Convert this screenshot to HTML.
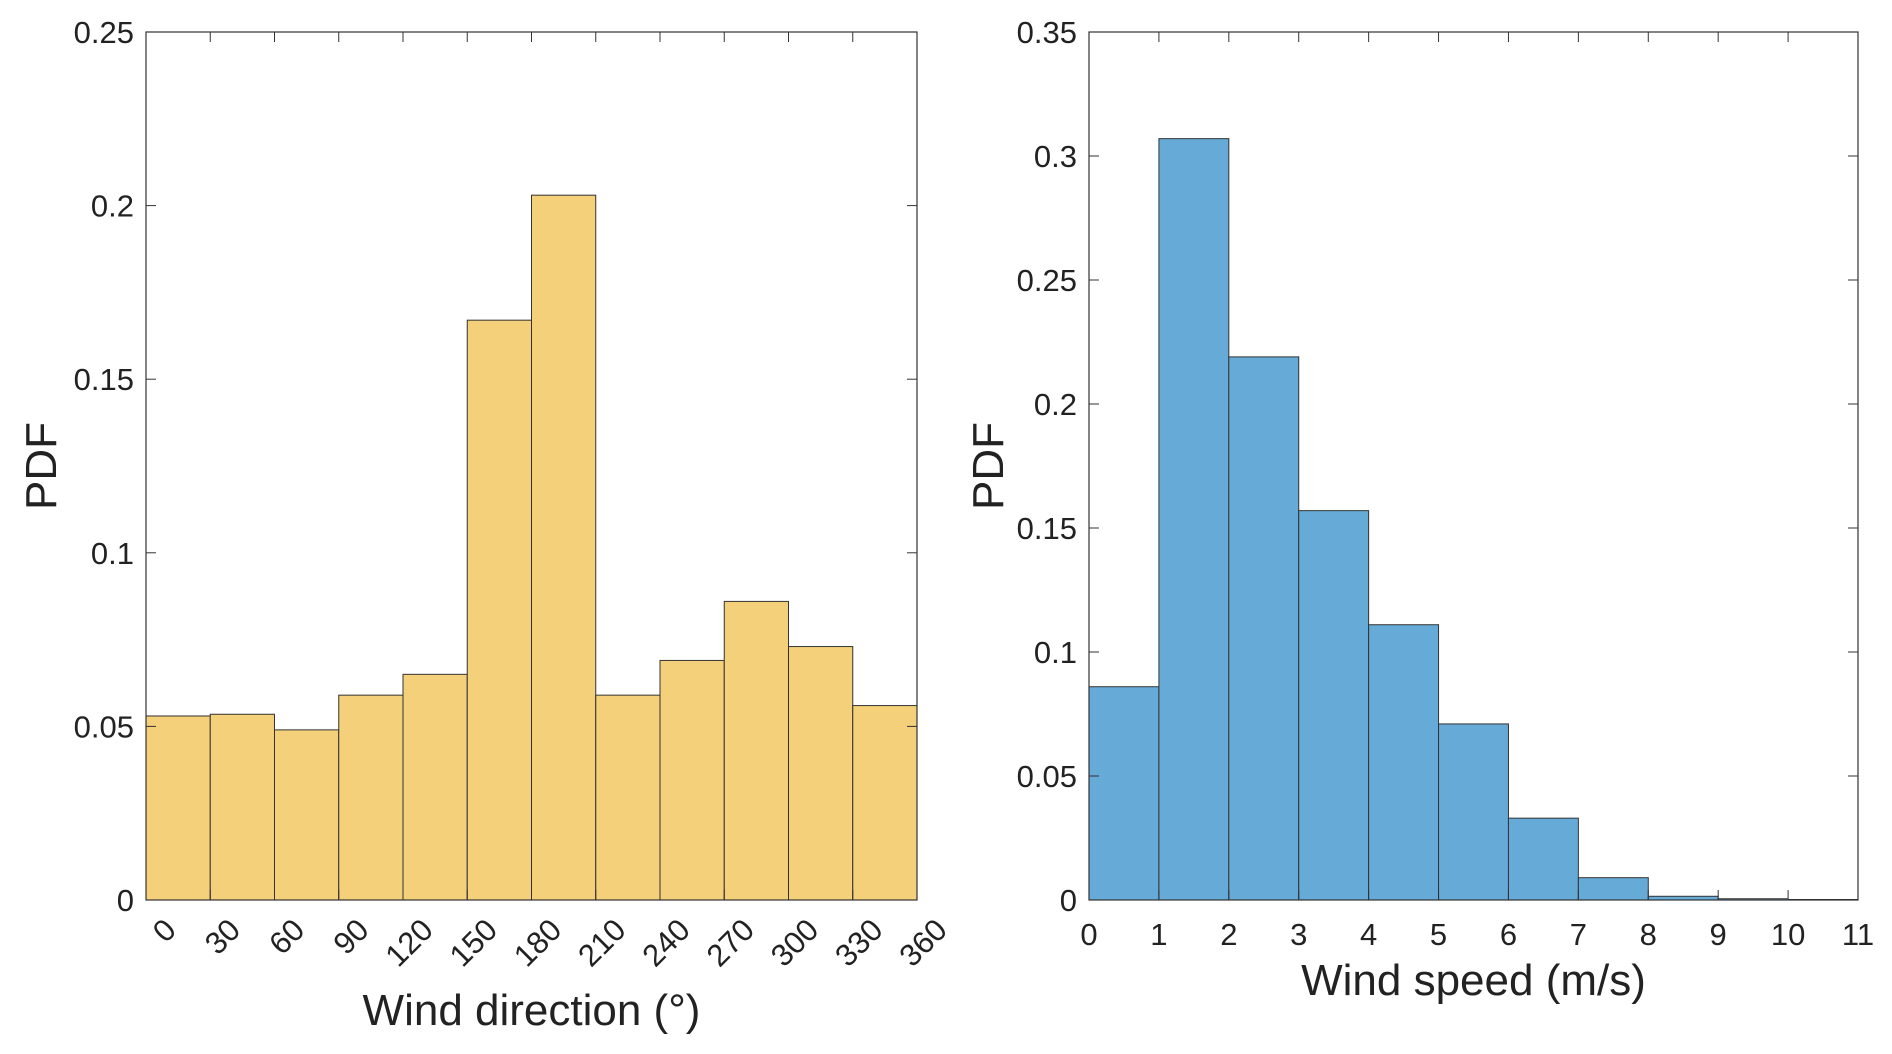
<!DOCTYPE html>
<html><head><meta charset="utf-8"><style>
html,body{margin:0;padding:0;background:#fff;}
svg{display:block;font-family:"Liberation Sans",sans-serif;}
</style></head><body>
<svg id="fig" width="1892" height="1054" viewBox="0 0 1892 1054"></svg>
<script>
const dirCategories = [0,30,60,90,120,150,180,210,240,270,300,330];
const dirValues = [0.053,0.0535,0.049,0.059,0.065,0.167,0.203,0.059,0.069,0.086,0.073,0.056];
const dirXTicks = [0,30,60,90,120,150,180,210,240,270,300,330,360];
const dirYTicks = [0,0.05,0.1,0.15,0.2,0.25];
const dirYLabels = ["0","0.05","0.1","0.15","0.2","0.25"];
const spdCategories = [0,1,2,3,4,5,6,7,8,9,10];
const spdValues = [0.086,0.307,0.219,0.157,0.111,0.071,0.033,0.009,0.0015,0.0005,0.0002];
const spdXTicks = [0,1,2,3,4,5,6,7,8,9,10,11];
const spdYTicks = [0,0.05,0.1,0.15,0.2,0.25,0.3,0.35];
const spdYLabels = ["0","0.05","0.1","0.15","0.2","0.25","0.3","0.35"];

const NS="http://www.w3.org/2000/svg";
const svg=document.getElementById('fig');
function mk(tag,attrs,parent){const e=document.createElementNS(NS,tag);for(const k in attrs)e.setAttribute(k,attrs[k]);(parent||svg).appendChild(e);return e;}

function panel(o){
  const g=mk('g',{});
  
  
  const xs=v=>o.x0+(v-o.xmin)/(o.xmax-o.xmin)*(o.x1-o.x0);
  const ys=v=>o.y1-(v-0)/(o.ymax)*(o.y1-o.y0);
  mk('rect',{x:o.x0,y:o.y0,width:o.x1-o.x0,height:o.y1-o.y0,fill:'#fff'},g);
  o.cats.forEach((c,i)=>{
    const r=mk('rect',{x:xs(c),y:ys(o.vals[i]),width:xs(c+o.w)-xs(c),height:ys(0)-ys(o.vals[i]),fill:o.color,stroke:'#333','stroke-width':1},g);
    
    
  });
  mk('rect',{x:o.x0,y:o.y0,width:o.x1-o.x0,height:o.y1-o.y0,fill:'none',stroke:'#333','stroke-width':1.2},g);
  const tl=10;
  o.yt.forEach((v,i)=>{
    const y=ys(v);
    mk('line',{x1:o.x0,y1:y,x2:o.x0+tl,y2:y,stroke:'#333'},g);
    mk('line',{x1:o.x1,y1:y,x2:o.x1-tl,y2:y,stroke:'#333'},g);
    const t=mk('text',{x:o.x0-12,y:y+11,'text-anchor':'end','font-size':31,fill:'#222'},g);
    t.textContent=o.yl[i];
    
    
  });
  o.xt.forEach(v=>{
    const x=xs(v);
    mk('line',{x1:x,y1:o.y1,x2:x,y2:o.y1-tl,stroke:'#333'},g);
    mk('line',{x1:x,y1:o.y0,x2:x,y2:o.y0+tl,stroke:'#333'},g);
    let t;
    if(o.rot){
      t=mk('text',{x:x+16,y:o.y1+16,'text-anchor':'end','font-size':31,fill:'#222',transform:`rotate(-45 ${x+16} ${o.y1+16})`,'dominant-baseline':'hanging'},g);
    } else {
      t=mk('text',{x:x,y:o.y1+45,'text-anchor':'middle','font-size':31,fill:'#222'},g);
    }
    t.textContent=v;
    
    
  });
  const xl=mk('text',{x:(o.x0+o.x1)/2,y:o.xly,'text-anchor':'middle','font-size':44,fill:'#222'},g);
  xl.textContent=o.xlabel;
  
  
  const yl=mk('text',{x:0,y:0,'text-anchor':'middle','font-size':44,fill:'#222',transform:`translate(${o.ylx} ${(o.y0+o.y1)/2}) rotate(-90)`},g);
  yl.textContent='PDF';
  
  
}
panel({name:'wind-direction-histogram',x0:146,x1:917,y0:32,y1:900,xmin:0,xmax:360,ymax:0.25,w:30,cats:dirCategories,vals:dirValues,xt:dirXTicks,yt:dirYTicks,yl:dirYLabels,color:'#F3D079',rot:true,xlabel:'Wind direction (°)',xly:1025,ylx:56});
panel({name:'wind-speed-histogram',x0:1089,x1:1858,y0:32,y1:900,xmin:0,xmax:11,ymax:0.35,w:1,cats:spdCategories,vals:spdValues,xt:spdXTicks,yt:spdYTicks,yl:spdYLabels,color:'#66AAD7',rot:false,xlabel:'Wind speed (m/s)',xly:995,ylx:1003});
</script>
</body></html>
